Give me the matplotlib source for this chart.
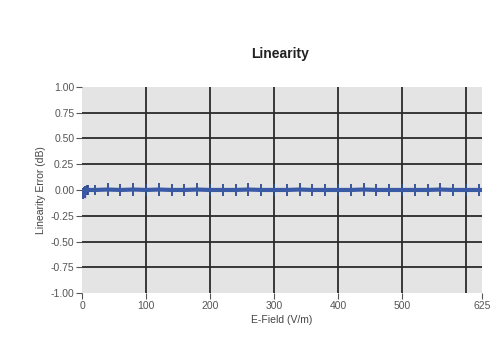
import matplotlib
matplotlib.use("Agg")
import matplotlib.pyplot as plt

# E-field steps (V/m) and measured linearity error (dB)
efield = [1, 2, 3, 5, 8, 10, 20, 40, 60, 80, 100, 120, 140, 160, 180, 200,
          220, 240, 260, 280, 300, 320, 340, 360, 380, 400, 420, 440, 460,
          480, 500, 520, 540, 560, 580, 600, 620, 625]
lin_err = [-0.04, -0.03, -0.02, -0.01, 0.0, 0.0, 0.0, 0.004, 0.0, 0.004, 0.0,
           0.004, 0.0, 0.0, 0.004, 0.0, 0.0, 0.0, 0.004, 0.0, 0.0, 0.0, 0.004,
           0.0, 0.0, 0.0, 0.0, 0.004, 0.0, 0.0, 0.0, 0.0, 0.0, 0.004, 0.0, 0.0,
           0.0, 0.0]
err_bar = [0.05, 0.05, 0.05, 0.05, 0.05, 0.05, 0.05, 0.06, 0.06, 0.06, 0.06,
           0.06, 0.06, 0.06, 0.06, 0.06, 0.06, 0.06, 0.06, 0.06, 0.06, 0.06,
           0.06, 0.06, 0.06, 0.06, 0.06, 0.06, 0.06, 0.06, 0.06, 0.06, 0.06,
           0.06, 0.06, 0.06, 0.06, 0.0]

xticks = [0, 100, 200, 300, 400, 500, 625]
xgrid = [100, 200, 300, 400, 500, 600]
yticks = [1.0, 0.75, 0.5, 0.25, 0.0, -0.25, -0.5, -0.75, -1.0]
ygrid = [0.75, 0.5, 0.25, -0.25, -0.5, -0.75]

plt.rcParams['font.family'] = ['Liberation Sans', 'DejaVu Sans']

fig = plt.figure(figsize=(5.0, 3.46), dpi=100)
ax = fig.add_axes([0.164, 0.153, 0.800, 0.596])
ax.set_facecolor('#e4e4e4')

for gx in xgrid:
    ax.axvline(gx, color='#2a2a2a', lw=1.3, zorder=1)
for gy in ygrid:
    ax.axhline(gy, color='#2a2a2a', lw=1.3, zorder=1)

ax.errorbar(efield, lin_err, yerr=err_bar, color='#3b5aa6', lw=3.0,
            ecolor='#2e4a8f', elinewidth=1.3, capsize=0, zorder=3)
ax.fill_between([0, 4], [-0.07, -0.07], [0.01, 0.01], color='#3b5aa6', zorder=3)

ax.set_xlim(0, 625)
ax.set_ylim(-1.0, 1.0)
ax.set_xticks(xticks)
ax.set_xticklabels([str(v) for v in xticks])
ax.set_yticks(yticks)
ax.set_yticklabels(['%.2f' % v for v in yticks])
ax.tick_params(axis='both', labelsize=7.5, colors='#555555', length=4,
               width=0.8, direction='out', pad=1.5)

for s in ax.spines.values():
    s.set_visible(False)

ax.set_title('Linearity', fontsize=10, fontweight='bold', color='#222222',
             pad=21, x=0.495)
ax.set_xlabel('E-Field (V/m)', fontsize=7.5, color='#444444', labelpad=3)
ax.set_ylabel('Linearity Error (dB)', fontsize=7.5, color='#444444',
              labelpad=3)

fig.savefig('out.png', dpi=100)
